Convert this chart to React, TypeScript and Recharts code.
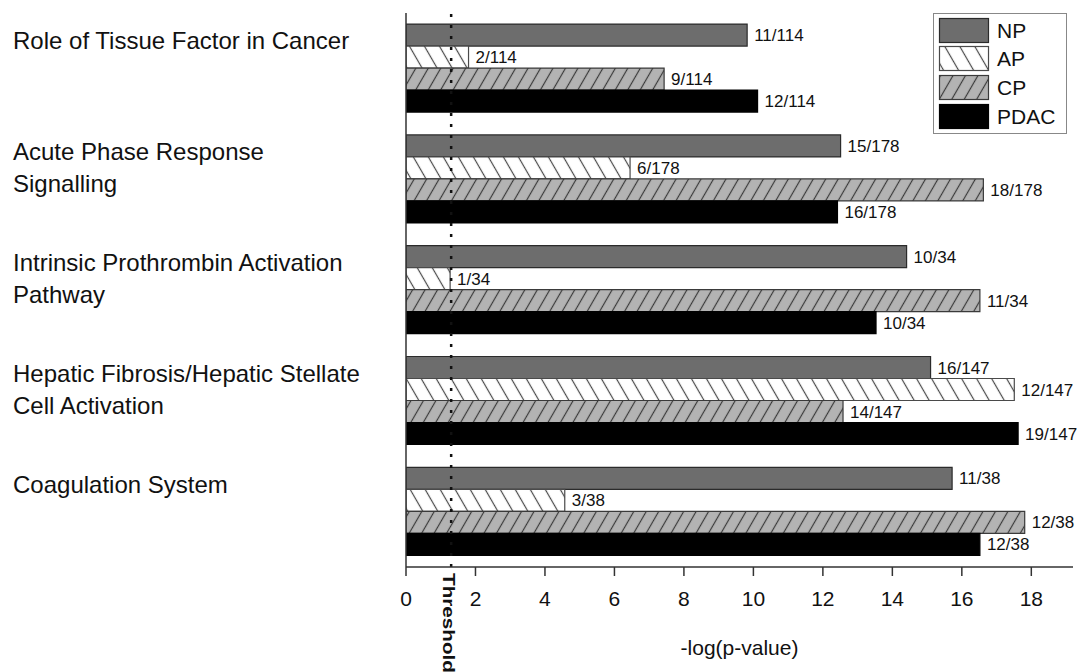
import React from "react";
import { Bar, BarChart, LabelList, Legend, ReferenceLine, XAxis, YAxis } from "recharts";

const categories = [
  "Role of Tissue Factor in Cancer",
  "Acute Phase Response\nSignalling",
  "Intrinsic Prothrombin Activation\nPathway",
  "Hepatic Fibrosis/Hepatic Stellate\nCell Activation",
  "Coagulation System",
];
const seriesNames = ["NP", "AP", "CP", "PDAC"];
const npValues = [9.82, 12.51, 14.41, 15.1, 15.72];
const apValues = [1.8, 6.45, 1.27, 17.51, 4.57];
const cpValues = [7.43, 16.62, 16.52, 12.58, 17.81];
const pdacValues = [10.12, 12.42, 13.53, 17.62, 16.52];
const npCounts = ["11/114", "15/178", "10/34", "16/147", "11/38"];
const apCounts = ["2/114", "6/178", "1/34", "12/147", "3/38"];
const cpCounts = ["9/114", "18/178", "11/34", "14/147", "12/38"];
const pdacCounts = ["12/114", "16/178", "10/34", "19/147", "12/38"];
const xTicks = [0, 2, 4, 6, 8, 10, 12, 14, 16, 18];
const threshold = 1.3;

const fills = ["#6d6d6d", "url(#hatchAP)", "url(#hatchCP)", "#000"];
const strokes = ["#2b2b2b", "#4a4a4a", "#3a3a3a", "#000"];
const font = "'Liberation Sans', Arial, sans-serif";

const data = categories.map((name, i) => ({
  name,
  NP: npValues[i], AP: apValues[i], CP: cpValues[i], PDAC: pdacValues[i],
  NPn: npCounts[i], APn: apCounts[i], CPn: cpCounts[i], PDACn: pdacCounts[i],
}));

function Patterns() {
  return <defs>
    <pattern id="hatchAP" patternUnits="userSpaceOnUse" width={13} height={13} patternTransform="rotate(-30)">
      <rect width={13} height={13} fill="#fff" />
      <line x1={6.5} y1={0} x2={6.5} y2={13} stroke="#4a4a4a" strokeWidth={1.2} />
    </pattern>
    <pattern id="hatchCP" patternUnits="userSpaceOnUse" width={10.8} height={10.8} patternTransform="rotate(30)">
      <rect width={10.8} height={10.8} fill="#b3b3b3" />
      <line x1={5.4} y1={0} x2={5.4} y2={10.8} stroke="#3a3a3a" strokeWidth={1.2} />
    </pattern>
  </defs>;
}

function CategoryTick({ y, payload }: any) {
  const lines = String(payload.value).split("\n");
  return <text x={13} y={y - 19} fontSize={24} fill="#111" textAnchor="start">
    {lines.map((line, i) => <tspan key={i} x={13} dy={i === 0 ? 0 : 32}>{line}</tspan>)}
  </text>;
}

function ThresholdLabel({ viewBox }: any) {
  const x = viewBox.x - 8;
  const y = viewBox.y + viewBox.height + 6;
  return <text x={x} y={y} transform={`rotate(90, ${x}, ${y})`} fontSize={16} fontWeight="bold" fill="#111"
    textLength={100} lengthAdjust="spacingAndGlyphs">Threshold</text>;
}

function LegendBox() {
  return <svg width={134} height={121} style={{ display: "block" }}>
    <rect x={0.5} y={0.5} width={133} height={120} fill="#fff" stroke="#888" />
    {seriesNames.map((name, i) => {
      const y = [5, 33, 62, 91][i];
      return <g key={name}>
        <rect x={6.5} y={y + 0.5} width={49} height={24} fill={fills[i]} stroke={strokes[i]} strokeWidth={1.2} />
        <text x={64} y={y + 20} fontSize={21} fill="#111" fontFamily={font}>{name}</text>
      </g>;
    })}
  </svg>;
}

export default function App() {
  return <div style={{ position: "absolute", left: 0, top: 0, background: "#fff" }}>
    <BarChart width={1080} height={672} data={data} layout="vertical" barCategoryGap="10%" barGap={0}
      margin={{ top: 13, right: 7, bottom: 0, left: 0 }} style={{ fontFamily: font }}>
      <Patterns />
      <XAxis type="number" domain={[0, 19.2]} ticks={xTicks} allowDataOverflow height={105}
        tickSize={9} tickMargin={15} tick={{ fontSize: 21, fill: "#111" }}
        axisLine={{ stroke: "#333", strokeWidth: 1.5 }} tickLine={{ stroke: "#333", strokeWidth: 1.5 }}
        label={{ value: "-log(p-value)", position: "insideBottom", offset: 17, fontSize: 21, fill: "#111" }} />
      <YAxis type="category" dataKey="name" width={406} tickLine={false} tick={<CategoryTick />}
        axisLine={{ stroke: "#333", strokeWidth: 1.5 }} interval={0} />
      {seriesNames.map((name, i) => (
        <Bar key={name} dataKey={name} fill={fills[i]} stroke={strokes[i]} strokeWidth={1.2} isAnimationActive={false}>
          <LabelList dataKey={`${name}n`} position="right" offset={7} fontSize={17} fill="#111" />
        </Bar>
      ))}
      <ReferenceLine x={threshold} stroke="#111" strokeWidth={2.5} strokeDasharray="3 8" label={<ThresholdLabel />} />
      <Legend layout="vertical" align="center" verticalAlign="middle" content={() => <LegendBox />}
        wrapperStyle={{ left: 933, top: 13, width: 134, height: 121 }} />
    </BarChart>
  </div>;
}
